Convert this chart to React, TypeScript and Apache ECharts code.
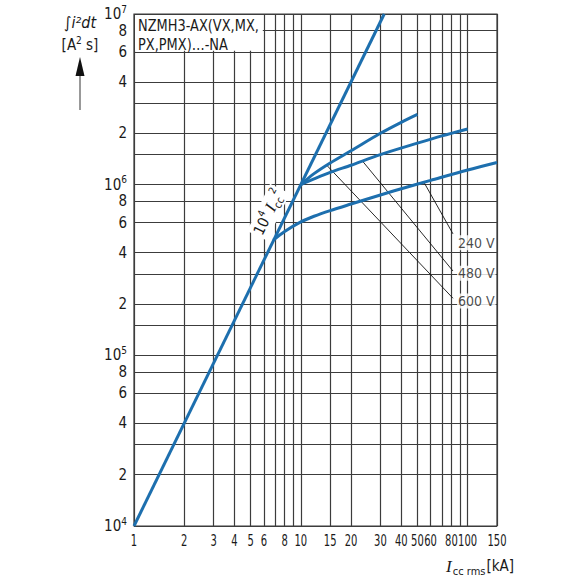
import React, { useEffect, useRef } from 'react';
import * as echarts from 'echarts';

// ---- axes (kA, A²s) ----
const xMax = 150;
const yMinExp = 4;
const yMaxExp = 7;
const xGridValues = [1, 2, 3, 4, 5, 6, 7, 8, 9, 10, 15, 20, 30, 40, 50, 60, 70, 80, 90, 100, 150];
const xLabelValues = [1, 2, 3, 4, 5, 6, 8, 10, 15, 20, 30, 40, 50, 60, 80, 100, 150];
const yGridValues = [1e4, 2e4, 3e4, 4e4, 6e4, 8e4, 1e5, 1.5e5, 2e5, 3e5, 4e5, 6e5, 8e5, 1e6, 1.5e6, 2e6, 3e6, 4e6, 6e6, 8e6, 1e7];
const yLabelValues = [1e4, 2e4, 4e4, 6e4, 8e4, 1e5, 2e5, 4e5, 6e5, 8e5, 1e6, 2e6, 4e6, 6e6, 8e6, 1e7];

// ---- limit line 10^4 · Icc² ----
const limitCurrent = [1, 31.62];
const limitEnergy = [1e4, 1e7];
const limitLabelAt = [6.4, 6.9e5];

// ---- let-through curves ----
const v240Current = [6.85, 8, 10, 12, 15, 20, 30, 42, 60, 100, 150];
const v240Energy = [4.73e5, 5.31e5, 6.05e5, 6.53e5, 7.05e5, 7.7e5, 8.7e5, 9.6e5, 1.06e6, 1.22e6, 1.35e6];
const v480Current = [10, 12, 15, 20, 30, 50, 70, 100];
const v480Energy = [1e6, 1.08e6, 1.18e6, 1.3e6, 1.5e6, 1.75e6, 1.93e6, 2.12e6];
const v600Current = [10, 12, 15, 20, 30, 40, 50];
const v600Energy = [1e6, 1.16e6, 1.34e6, 1.58e6, 2.0e6, 2.32e6, 2.58e6];

// ---- voltage call-outs ----
const leaderLabels = ['240 V', '480 V', '600 V'];
const leaderStartCurrent = [54.8, 23.5, 14.3];
const leaderStartEnergy = [1.03e6, 1.37e6, 1.3e6];
const leaderEndCurrent = [81.7, 81.7, 81.7];
const leaderEndEnergy = [5.15e5, 3.12e5, 2.16e5];
const labelEnergy = [4.56e5, 3.03e5, 2.08e5];

// ---- type box ----
const boxText = 'NZMH3-AX(VX,MX,\nPX,PMX)…-NA';
const boxCurrent = [1, 6];
const boxEnergy = [6e6, 1e7];

const lg = Math.log10;
const pts = (xs: number[], ys: number[]) => xs.map((x, i) => [lg(x), lg(ys[i])]);

const BLUE = '#1d6fae';
const GRID = '#3c3c3c';
const TEXT = '#1a1a1a';
const FONT = "'Liberation Sans Narrow', 'DejaVu Sans Condensed', 'Open Sans', sans-serif";
const SERIF = "'Liberation Serif', 'DejaVu Serif', serif";

const curveSeries = (name: string, xs: number[], ys: number[]) => ({
  name,
  type: 'line',
  data: pts(xs, ys),
  smooth: 0.3,
  symbol: 'none',
  silent: true,
  zlevel: 1,
  z: 4,
  lineStyle: { color: BLUE, width: 3 },
});

export default function App() {
  const ref = useRef<HTMLDivElement>(null);
  useEffect(() => {
    if (!ref.current) return;
    const chart = echarts.init(ref.current, undefined, { renderer: 'svg' });
    const option: any = {
      animation: false,
      backgroundColor: '#fff',
      grid: {
        left: 134, right: 83, top: 14, bottom: 54,
        show: true, borderColor: GRID, borderWidth: 1.2,
        containLabel: false, outerBoundsMode: 'none',
      },
      xAxis: {
        type: 'value', min: 0, max: lg(xMax),
        axisLine: { show: false },
        axisTick: { show: false, customValues: xGridValues.map(lg) },
        splitLine: { show: true, lineStyle: { color: GRID, width: 1.2 } },
        axisLabel: { show: false },
      },
      yAxis: {
        type: 'value', min: yMinExp, max: yMaxExp,
        axisLine: { show: false },
        axisTick: { show: false, customValues: yGridValues.map(lg) },
        splitLine: { show: true, lineStyle: { color: GRID, width: 1.2 } },
        axisLabel: {
          customValues: yLabelValues.map(lg),
          formatter: (v: number) => {
            const e = Math.floor(v + 1e-6);
            const m = Math.round(Math.pow(10, v - e));
            return m === 1 ? `{b|10}{sup|${e}}` : `{b|${m}}`;
          },
          margin: 7,
          rich: {
            b: { fontFamily: FONT, fontSize: 15, color: TEXT, lineHeight: 20, verticalAlign: 'middle' },
            sup: { fontFamily: FONT, fontSize: 10, color: TEXT, lineHeight: 12, verticalAlign: 'top' },
          },
        },
      },
      graphic: [
        {
          type: 'text', x: 80, y: 22,
          style: {
            text: '{n|∫}{i|i²dt}', align: 'center', verticalAlign: 'middle',
            rich: {
              n: { fontFamily: FONT, fontSize: 16, fill: TEXT },
              i: { fontFamily: FONT, fontSize: 16, fontStyle: 'italic', fill: TEXT },
            },
          },
        },
        {
          type: 'text', x: 80, y: 45,
          style: {
            text: '{n|[A}{sup|2}{n| s]}', align: 'center', verticalAlign: 'middle',
            rich: {
              n: { fontFamily: FONT, fontSize: 15, fill: TEXT, lineHeight: 20, verticalAlign: 'middle' },
              sup: { fontFamily: FONT, fontSize: 10, fill: TEXT, lineHeight: 12, verticalAlign: 'top' },
            },
          },
        },
        { type: 'line', shape: { x1: 80, y1: 74, x2: 80, y2: 110 }, style: { stroke: '#555', lineWidth: 1.2 } },
        { type: 'polygon', shape: { points: [[80, 57], [75.5, 76], [84.5, 76]] }, style: { fill: '#111' } },
        {
          type: 'text', x: 514, y: 566,
          style: {
            text: '{i|I}{sub|cc rms}{n|[kA]}', align: 'right', verticalAlign: 'middle',
            rich: {
              i: { fontFamily: SERIF, fontSize: 17, fontStyle: 'italic', fill: TEXT, lineHeight: 22, verticalAlign: 'middle', padding: [0, 1, 0, 0] },
              sub: { fontFamily: FONT, fontSize: 11, fill: TEXT, lineHeight: 13, verticalAlign: 'bottom', padding: [0, 1, 0, 0] },
              n: { fontFamily: FONT, fontSize: 15, fill: TEXT, lineHeight: 22, verticalAlign: 'middle' },
            },
          },
        },
      ],
      series: [
        {
          // x tick labels, placed through the x axis scale (condensed like the reference)
          name: 'xlabels', type: 'custom', silent: true, clip: false,
          data: xLabelValues.map((v) => [lg(v), yMinExp]),
          renderItem: (p: any, api: any) => {
            const c = api.coord([api.value(0), api.value(1)]);
            return {
              type: 'text', x: c[0], y: c[1] + 7, scaleX: 0.74,
              style: {
                text: String(xLabelValues[p.dataIndex]),
                fontFamily: FONT, fontSize: 15, fill: TEXT, align: 'center', verticalAlign: 'top',
              },
            };
          },
        },
        {
          name: 'box', type: 'custom', silent: true, z: 10, zlevel: 1, clip: false,
          data: [[lg(boxCurrent[0]), lg(boxEnergy[0]), lg(boxCurrent[1]), lg(boxEnergy[1])]],
          renderItem: (_p: any, api: any) => {
            const a = api.coord([api.value(0), api.value(1)]);
            const b = api.coord([api.value(2), api.value(3)]);
            const x0 = a[0] + 1, y0 = b[1] + 1, x1 = b[0] - 1, y1 = a[1] - 1;
            return {
              type: 'group',
              children: [
                { type: 'rect', z2: 1, shape: { x: x0, y: y0, width: x1 - x0, height: y1 - y0 }, style: { fill: '#ffffff', stroke: null } },
                {
                  type: 'text', z2: 2, x: x0 + 3, y: y0 + 1, scaleX: 0.9,
                  style: {
                    text: boxText, fontFamily: FONT, fontSize: 16, lineHeight: 19, fill: TEXT,
                    align: 'left', verticalAlign: 'top',
                  },
                },
              ],
            };
          },
        },
        {
          name: 'leaders', type: 'line', data: [], silent: true, zlevel: 1, z: 3,
          markLine: {
            silent: true, symbol: ['none', 'none'],
            lineStyle: { color: '#111', width: 0.9, type: 'solid' },
            label: { show: false },
            data: leaderLabels.map((_, i) => [
              { coord: [lg(leaderStartCurrent[i]), lg(leaderStartEnergy[i])] },
              { coord: [lg(leaderEndCurrent[i]), lg(leaderEndEnergy[i])] },
            ]),
          },
        },
        {
          name: 'limit', type: 'line', data: pts(limitCurrent, limitEnergy),
          symbol: 'none', silent: true, zlevel: 1, z: 4,
          lineStyle: { color: BLUE, width: 3 },
          markPoint: {
            silent: true, symbol: 'circle', symbolSize: 0,
            data: [{ coord: [lg(limitLabelAt[0]), lg(limitLabelAt[1])], value: '' }],
            label: {
              show: true, position: 'inside', rotate: 64,
              formatter: '{n|10}{sup|4} {i|I}{sub|cc}{sup|2}',
              backgroundColor: '#fff', padding: [0, 2, 0, 2],
              rich: {
                n: { fontFamily: FONT, fontSize: 15, color: TEXT, lineHeight: 22, verticalAlign: 'middle' },
                sup: { fontFamily: FONT, fontSize: 10, color: TEXT, lineHeight: 12, verticalAlign: 'top' },
                i: { fontFamily: SERIF, fontSize: 17, fontStyle: 'italic', color: TEXT, lineHeight: 22, verticalAlign: 'middle' },
                sub: { fontFamily: FONT, fontSize: 11, color: TEXT, lineHeight: 13, verticalAlign: 'bottom' },
              },
            },
          },
        },
        curveSeries('240 V', v240Current, v240Energy),
        curveSeries('480 V', v480Current, v480Energy),
        curveSeries('600 V', v600Current, v600Energy),
        {
          name: 'labels', type: 'scatter', silent: true, zlevel: 1, z: 5,
          symbolSize: 0,
          data: leaderLabels.map((t, i) => ({ name: t, value: [lg(leaderEndCurrent[i]), lg(labelEnergy[i])] })),
          label: {
            show: true, position: 'right', distance: 4, formatter: '{b}',
            fontFamily: FONT, fontSize: 14, color: TEXT,
            backgroundColor: '#fff', padding: [1, 1, 0, 1],
          },
        },
      ],
    };
    chart.setOption(option);
    return () => chart.dispose();
  }, []);
  return (
    <div
      ref={ref}
      style={{ position: 'fixed', left: 0, top: 0, width: 580, height: 580, background: '#fff' }}
    />
  );
}
